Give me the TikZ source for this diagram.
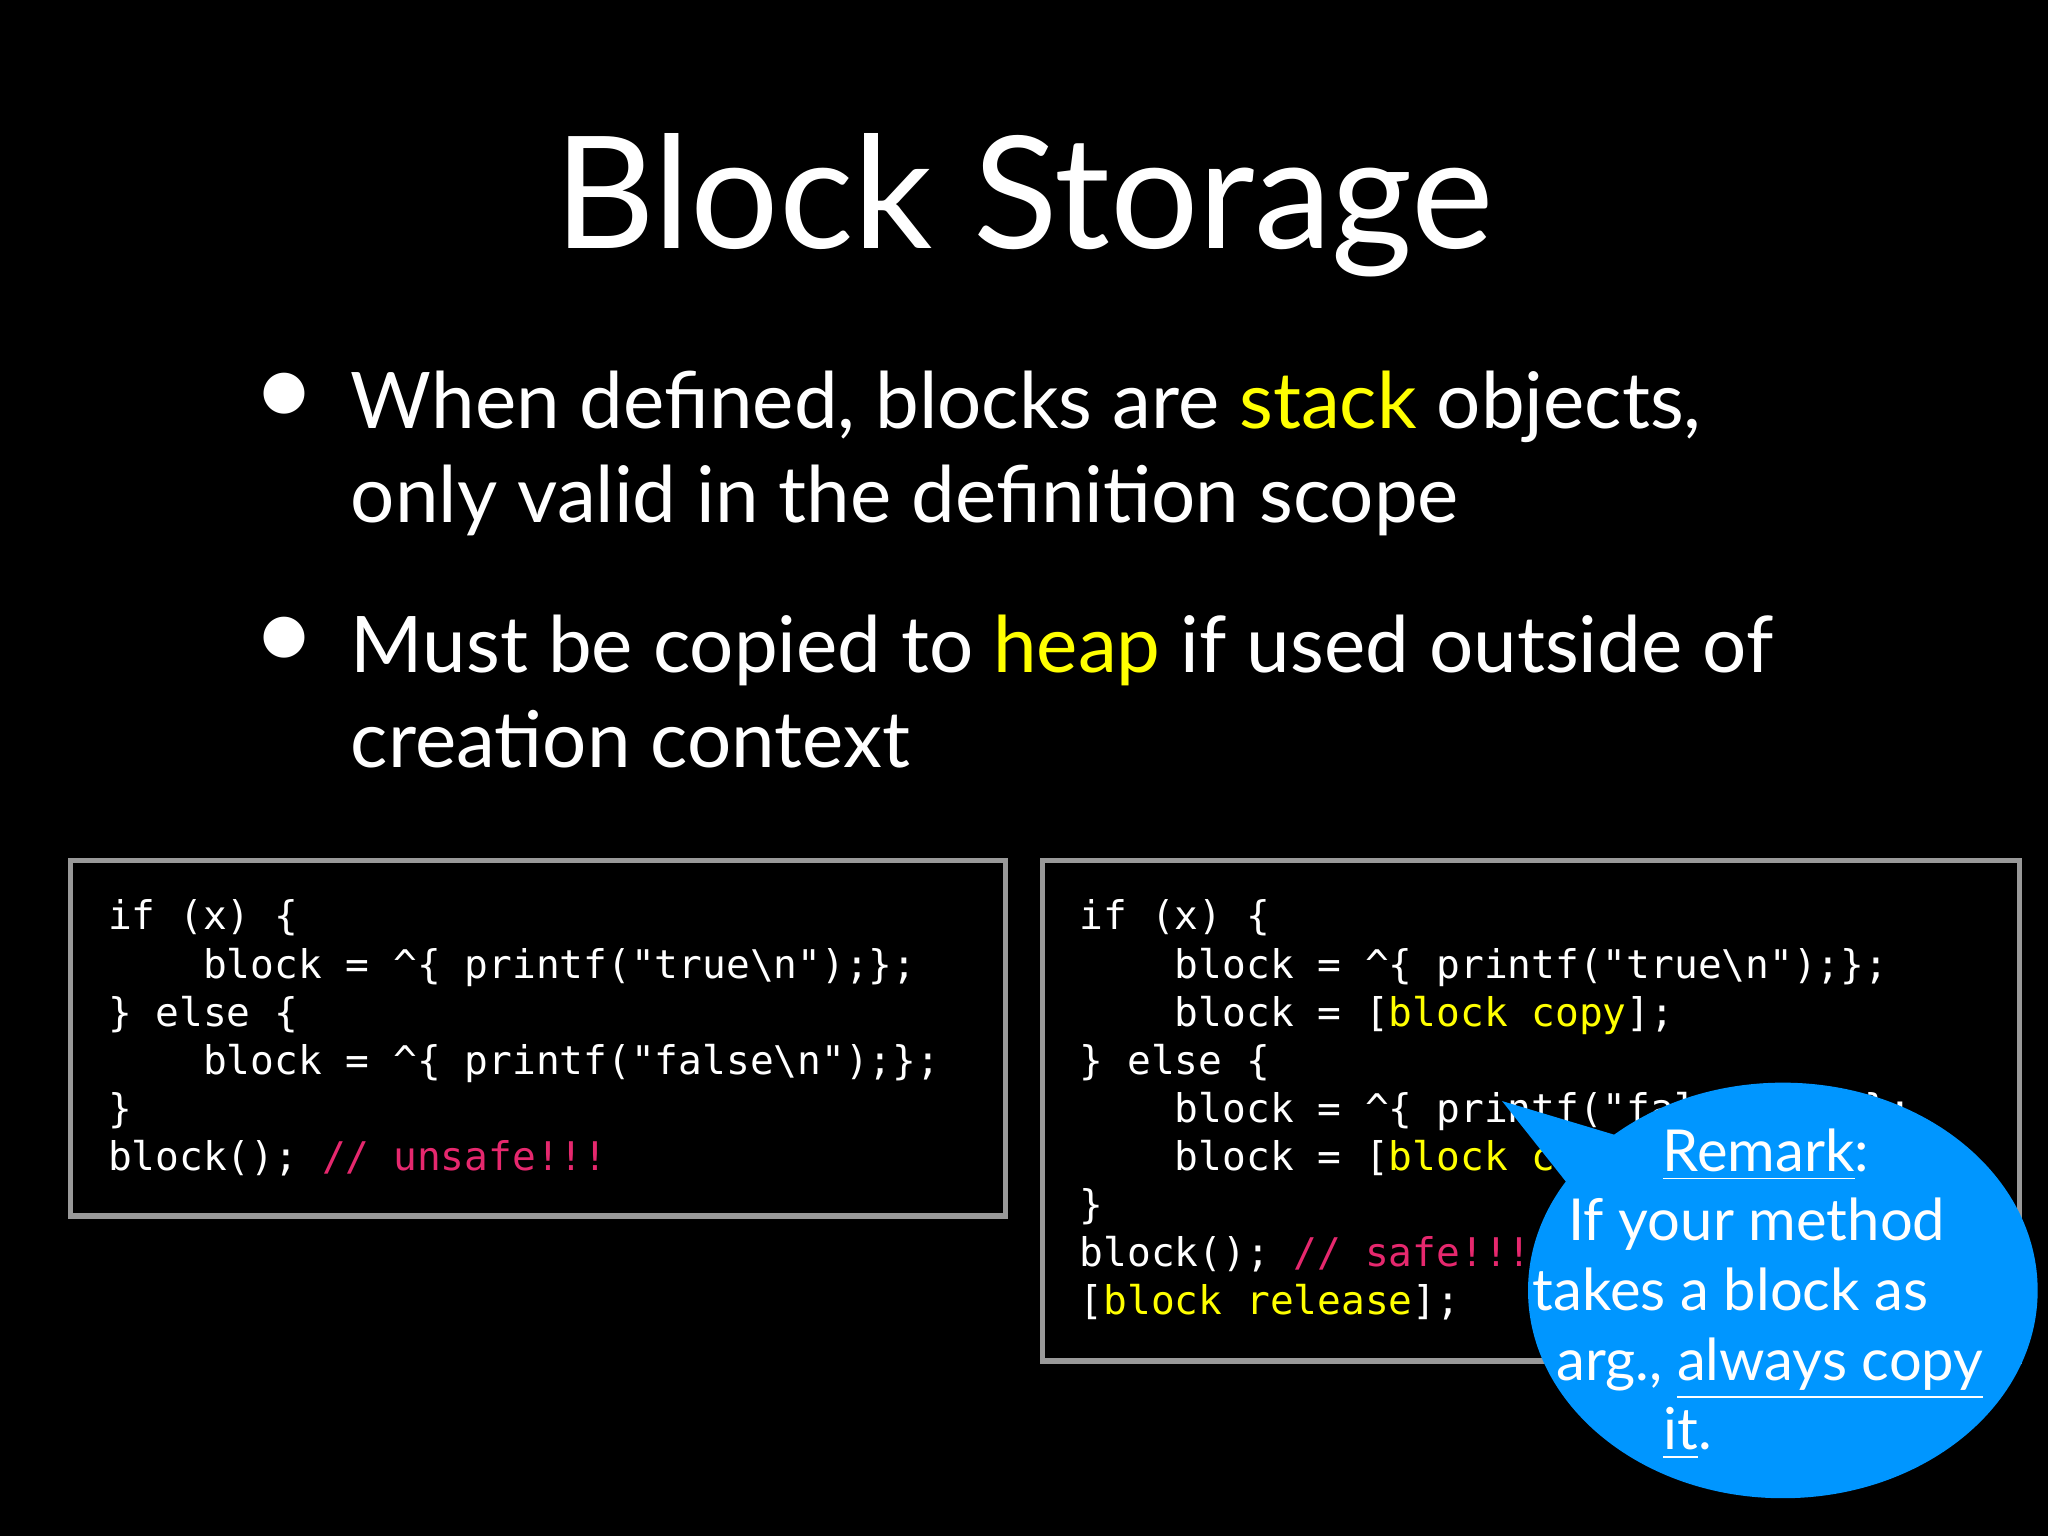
\documentclass[tikz,border=0pt]{standalone}
\usepackage{fontspec}
\setmainfont{Lato}
\setmonofont{DejaVu Sans Mono}
\usetikzlibrary{shapes.geometric}
\definecolor{hl}{RGB}{255,255,0}
\definecolor{cm}{RGB}{230,40,110}
\definecolor{bub}{RGB}{0,150,255}
\tikzset{codebox/.style={draw=gray!80!white,line width=1.2pt},
 code/.style={anchor=base west,inner sep=0,text=white,font=\ttfamily\fontsize{8.6}{10}\selectfont},
 bul/.style={anchor=base west,inner sep=0,text=white,font=\fontsize{17}{20}\selectfont},
 rem/.style={anchor=base,inner sep=0,text=white,font=\fontsize{12.6}{15}\selectfont}}
\begin{document}
\begin{tikzpicture}[x=0.01cm,y=-0.01cm]
\fill[black] (0,0) rectangle (1568,1176);
\useasboundingbox (0,0) rectangle (1568,1176);
\node[anchor=base,text=white,inner sep=0,font=\fontsize{34}{40}\selectfont] (title) at (784,190) {Block Storage};
\node[text=white,font=\fontsize{24}{24}\selectfont,inner sep=0] (b1) at (218,306) {•};
\node[text=white,font=\fontsize{24}{24}\selectfont,inner sep=0] (b2) at (218,493) {•};
\node[bul] (l1) at (268,328) {When defined, blocks are \textcolor{hl}{stack} objects,};
\node[bul] (l2) at (268,400) {only valid in the definition scope};
\node[bul] (l3) at (268,515) {Must be copied to \textcolor{hl}{heap} if used outside of};
\node[bul] (l4) at (268,588) {creation context};
\draw[codebox] (54,659) rectangle (770,931);
\draw[codebox] (798,659) rectangle (1546,1042);
\foreach \t [count=\i] in {{if (x) \{},{\ \ \ \ block = \^{}\{ printf("true\textbackslash n");\};},{\} else \{},{\ \ \ \ block = \^{}\{ printf("false\textbackslash n");\};},{\}},{block(); \textcolor{cm}{// unsafe!!!}}}
  \node[code] (a\i) at (82,{712+36.8*(\i-1)}) {\t};
\foreach \t [count=\i] in {{if (x) \{},{\ \ \ \ block = \^{}\{ printf("true\textbackslash n");\};},{\ \ \ \ block = [\textcolor{hl}{block copy}];},{\} else \{},{\ \ \ \ block = \^{}\{ printf("false\textbackslash n");\};},{\ \ \ \ block = [\textcolor{hl}{block copy}];},{\}},{block(); \textcolor{cm}{// safe!!!}},{[\textcolor{hl}{block release}];}}
  \node[code] (c\i) at (826,{712+36.8*(\i-1)}) {\t};
\fill[bub] (1150,843) -- (1240,870) -- (1215,925) -- cycle;
\node[ellipse,fill=bub,minimum width=3.9cm,minimum height=3.18cm,inner sep=0] (bubble) at (1365,988) {};
\node[rem] (r1) at (1352,897) {\underline{Remark}:};
\node[rem] (r2) at (1345,950) {If your method};
\node[rem] (r3) at (1325,1003) {takes a block as};
\node[rem] (r4) at (1355,1057) {arg., \underline{always copy}};
\node[rem] (r5) at (1292,1110) {\underline{it}.};
\end{tikzpicture}
\end{document}
